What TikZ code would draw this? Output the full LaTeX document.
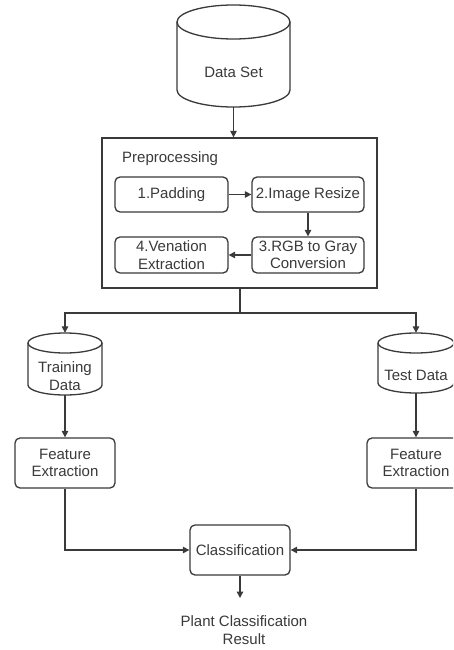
\documentclass[tikz,border=0pt]{standalone}
\usepackage{fontspec}
\setmainfont{Liberation Sans}
\usetikzlibrary{arrows.meta}
\definecolor{ink}{HTML}{3A3A3A}
\definecolor{txt}{HTML}{3A3A3A}
\tikzset{
  ln/.style={draw=ink, line width=1.3pt},
  arr/.style={draw=ink, line width=1.3pt, -{Triangle[length=6.5pt,width=6.5pt]}},
  rbox/.style={draw=ink, line width=1.3pt, rounded corners=5pt, fill=white, align=center, inner sep=0pt, text=txt, font=\fontsize{15}{17.5}\selectfont},
  holder/.style={inner sep=0pt},
  lbl/.style={align=center, inner sep=0pt, text=txt, font=\fontsize{15}{17.5}\selectfont}
}
\begin{document}
\begin{tikzpicture}[x=1pt,y=-1pt]
\useasboundingbox (0,0) rectangle (453,650);
\fill[white] (0,0) rectangle (453,650);
\clip (0,0) rectangle (453,650);

% Data Set cylinder
\node[holder, minimum width=113pt, minimum height=102pt] (ds) at (233.5,56) {};
\draw[ln, fill=white] (177,22) -- (177,90) arc[start angle=180,end angle=360,x radius=56.5pt,y radius=17pt] -- (290,22);
\draw[ln] (233.5,22) ellipse[x radius=56.5pt, y radius=17pt];
\node[lbl] (dst) at (233.5,72) {Data Set};

% Preprocessing container
\node[draw=ink, line width=1.3pt, inner sep=0pt, minimum width=275pt, minimum height=150pt] (pre) at (239.5,213) {};
\node[lbl, anchor=west] (pret) at (122,159) {Preprocessing};

\node[rbox, minimum width=113pt, minimum height=35pt] (p1) at (171.5,194.5) {1.Padding};
\node[rbox, minimum width=112pt, minimum height=35pt] (p2) at (308,194.5) {2.Image Resize};
\node[rbox, minimum width=112pt, minimum height=36pt] (p3) at (308,255) {3.RGB to Gray\\Conversion};
\node[rbox, minimum width=113pt, minimum height=36pt] (p4) at (171.5,255) {4.Venation\\Extraction};

\draw[arr] (p1) -- (p2);
\draw[arr] (p2) -- (p3);
\draw[arr] (p3) -- (p4);

\draw[arr] (ds.south) -- (ds.south |- pre.north);

% Training Data cylinder
\node[holder, minimum width=74pt, minimum height=62pt] (tr) at (65,364) {};
\draw[ln, fill=white] (28,343) -- (28,385) arc[start angle=180,end angle=360,x radius=37pt,y radius=10pt] -- (102,343);
\draw[ln] (65,343) ellipse[x radius=37pt, y radius=10pt];
\node[lbl] (trt) at (65,376) {Training\\Data};

% Test Data cylinder
\node[holder, minimum width=76pt, minimum height=60pt] (te) at (416,363) {};
\draw[ln, fill=white] (378,343) -- (378,383) arc[start angle=180,end angle=360,x radius=38pt,y radius=10pt] -- (454,343);
\draw[ln] (416,343) ellipse[x radius=38pt, y radius=10pt];
\node[lbl] (tet) at (416,375) {Test Data};

% split
\coordinate (split) at (240,313);
\draw[ln] (240,288) -- (split);
\draw[arr] (split) -| (tr.north);
\draw[arr] (split) -| (te.north);

% Feature extraction
\node[rbox, minimum width=100pt, minimum height=50pt] (fl) at (65,463) {Feature\\Extraction};
\node[rbox, minimum width=98pt, minimum height=50pt] (fr) at (416,463) {Feature\\Extraction};
\draw[arr] (tr.south) -- (fl.north);
\draw[arr] (te.south) -- (fr.north);

% Classification
\node[rbox, minimum width=100pt, minimum height=50pt] (cls) at (240,550) {Classification};
\draw[arr] (fl.south) |- (cls.west);
\draw[arr] (fr.south) |- (cls.east);

\coordinate (resin) at (240,598);
\draw[arr] (cls.south) -- (resin);
\node[lbl] (res) at (244,630) {Plant Classification\\Result};
\end{tikzpicture}
\end{document}
